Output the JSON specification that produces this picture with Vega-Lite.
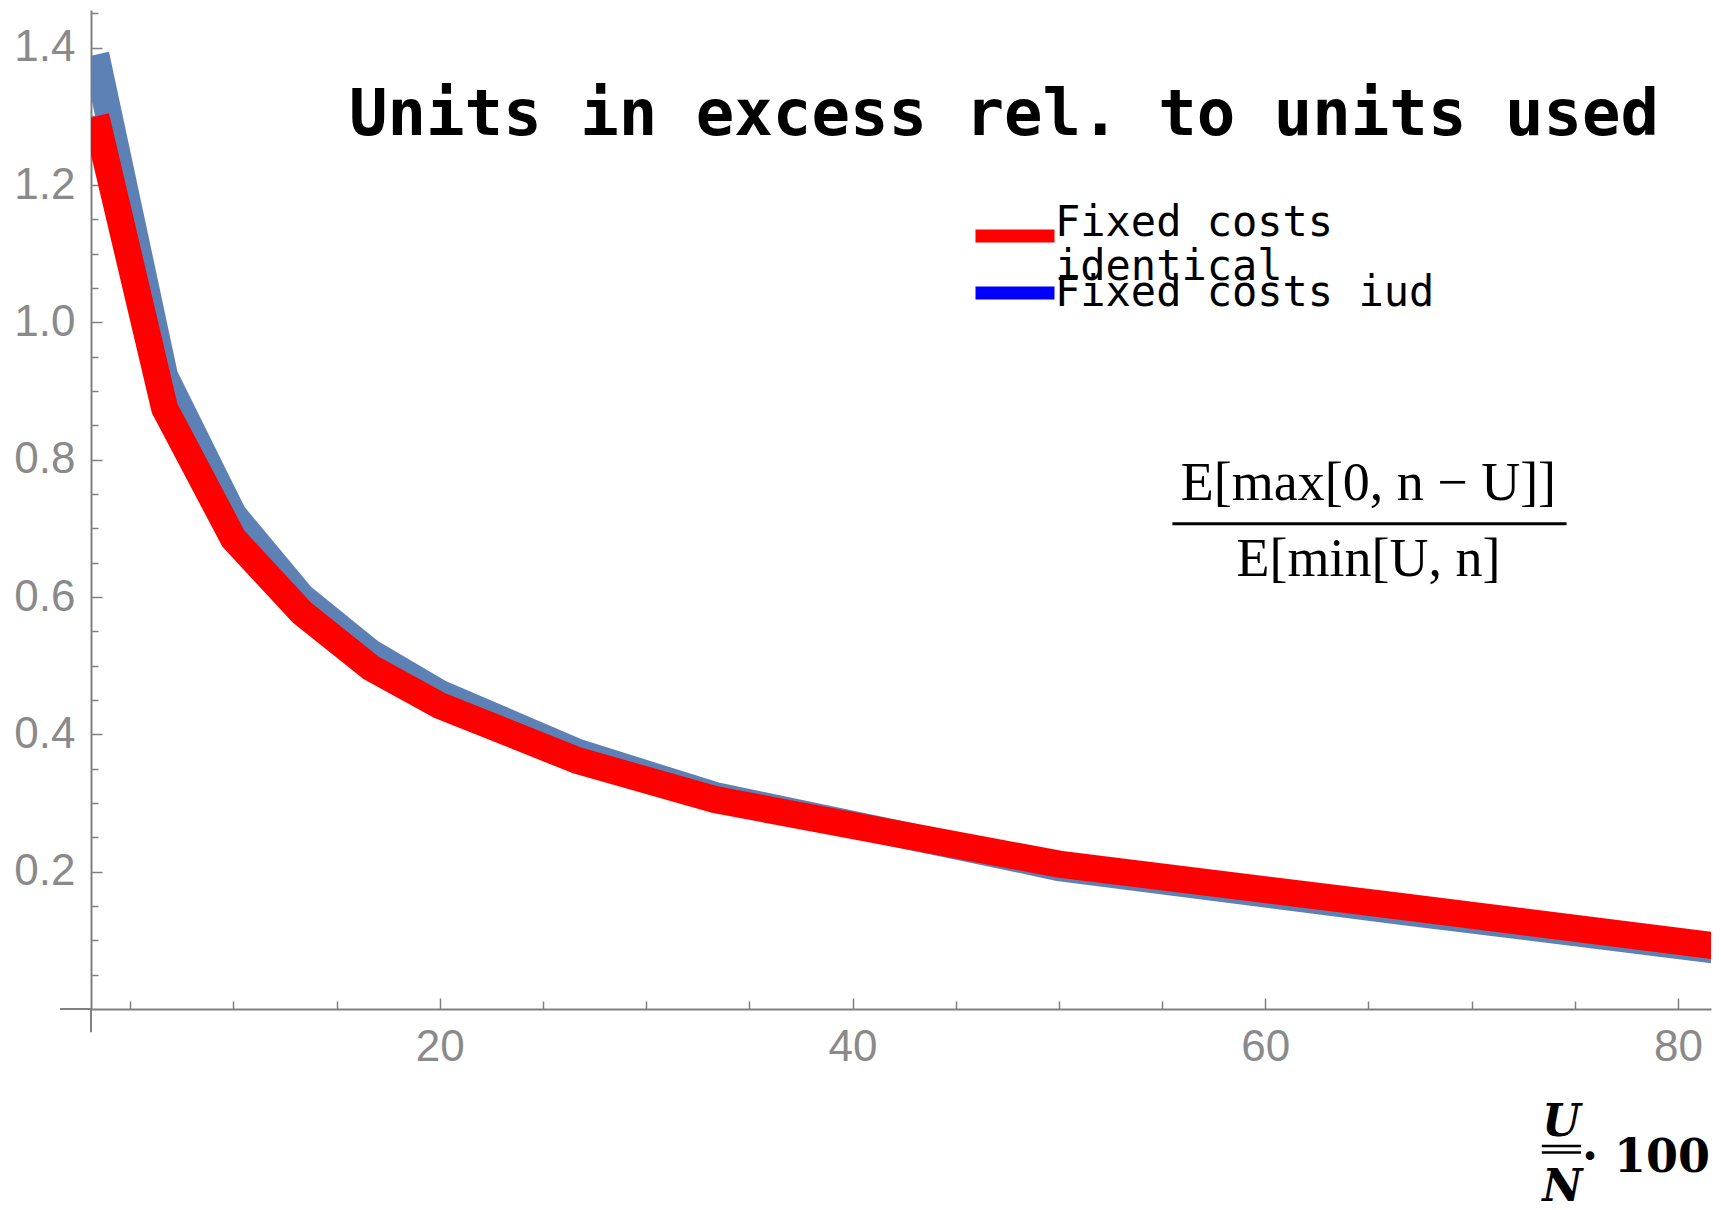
{
  "$schema": "https://vega.github.io/schema/vega-lite/v6.json",
  "width": 1620,
  "height": 999,
  "autosize": {"type": "none"},
  "padding": {"left": 91, "top": 10, "right": 10, "bottom": 201},
  "background": "white",
  "title": {"text": "Units in excess rel. to units used", "anchor": "start", "frame": "group", "orient": "top", "font": "DejaVu Sans Mono", "fontSize": 64, "fontWeight": "bold", "color": "black", "baseline": "alphabetic", "offset": 0, "dx": 258, "dy": 189},
  "config": {"view": {"stroke": null}, "axis": {"grid": false}},
  "datasets": {
    "curves": [
      {"x": 3.333, "y": 1.39, "series": "Fixed costs iud"},
      {"x": 6.667, "y": 0.922, "series": "Fixed costs iud"},
      {"x": 10, "y": 0.72, "series": "Fixed costs iud"},
      {"x": 13.333, "y": 0.6, "series": "Fixed costs iud"},
      {"x": 16.667, "y": 0.519, "series": "Fixed costs iud"},
      {"x": 20, "y": 0.46, "series": "Fixed costs iud"},
      {"x": 26.667, "y": 0.374, "series": "Fixed costs iud"},
      {"x": 33.333, "y": 0.311, "series": "Fixed costs iud"},
      {"x": 50, "y": 0.206, "series": "Fixed costs iud"},
      {"x": 66.667, "y": 0.142, "series": "Fixed costs iud"},
      {"x": 83.333, "y": 0.08, "series": "Fixed costs iud"},
      {"x": 3.333, "y": 1.3, "series": "Fixed costs identical"},
      {"x": 6.667, "y": 0.875, "series": "Fixed costs identical"},
      {"x": 10, "y": 0.685, "series": "Fixed costs identical"},
      {"x": 13.333, "y": 0.577, "series": "Fixed costs identical"},
      {"x": 16.667, "y": 0.497, "series": "Fixed costs identical"},
      {"x": 20, "y": 0.442, "series": "Fixed costs identical"},
      {"x": 26.667, "y": 0.362, "series": "Fixed costs identical"},
      {"x": 33.333, "y": 0.305, "series": "Fixed costs identical"},
      {"x": 50, "y": 0.211, "series": "Fixed costs identical"},
      {"x": 66.667, "y": 0.149, "series": "Fixed costs identical"},
      {"x": 83.333, "y": 0.086, "series": "Fixed costs identical"}
    ]
  },
  "resolve": {"axis": {"x": "independent", "y": "independent"}},
  "layer": [
    {
      "data": {"name": "curves"},
      "transform": [{"filter": "datum.series === 'Fixed costs iud'"}],
      "mark": {"type": "line", "stroke": "#5e81b5", "strokeWidth": 27, "clip": true},
      "encoding": {
        "x": {"field": "x", "type": "quantitative", "scale": {"domain": [3.1, 81.6], "nice": false, "zero": false},
          "axis": {"orient": "bottom", "values": [20, 40, 60, 80], "title": null, "tickSize": -11, "tickWidth": 1.5, "tickColor": "#808080", "domainColor": "#808080", "domainWidth": 2, "labelPadding": 27, "labelFont": "Liberation Sans", "labelFontSize": 44, "labelColor": "#8a8a8a", "labelFlush": false, "labelOverlap": false}},
        "y": {"field": "y", "type": "quantitative", "scale": {"domain": [0, 1.455], "nice": false, "zero": false},
          "axis": {"orient": "left", "values": [0.2, 0.4, 0.6, 0.8, 1.0, 1.2, 1.4], "format": ".1f", "title": null, "tickSize": -11, "tickWidth": 1.5, "tickColor": "#808080", "domainColor": "#808080", "domainWidth": 2, "labelPadding": 27, "labelFont": "Liberation Sans", "labelFontSize": 44, "labelColor": "#8a8a8a", "labelFlush": false, "labelOverlap": false}}
      }
    },
    {
      "data": {"name": "curves"},
      "transform": [{"filter": "datum.series === 'Fixed costs identical'"}],
      "mark": {"type": "line", "stroke": "#ff0000", "strokeWidth": 27, "clip": true},
      "encoding": {
        "x": {"field": "x", "type": "quantitative", "scale": {"domain": [3.1, 81.6], "nice": false, "zero": false}, "axis": null},
        "y": {"field": "y", "type": "quantitative", "scale": {"domain": [0, 1.455], "nice": false, "zero": false}, "axis": null}
      }
    },
    {
      "data": {"name": "curves"},
      "transform": [{"filter": "datum.series === 'Fixed costs identical'"}],
      "mark": {"type": "line", "opacity": 0, "strokeWidth": 1, "clip": true},
      "encoding": {
        "x": {"field": "x", "type": "quantitative", "scale": {"domain": [3.1, 81.6], "nice": false, "zero": false},
          "axis": {"orient": "bottom", "values": [5, 10, 15, 25, 30, 35, 45, 50, 55, 65, 70, 75], "title": null, "labels": false, "domain": false, "tickSize": -8, "tickWidth": 1.5, "tickColor": "#808080"}},
        "y": {"field": "y", "type": "quantitative", "scale": {"domain": [0, 1.455], "nice": false, "zero": false},
          "axis": {"orient": "left", "values": [0.05, 0.1, 0.15, 0.25, 0.3, 0.35, 0.45, 0.5, 0.55, 0.65, 0.7, 0.75, 0.85, 0.9, 0.95, 1.05, 1.1, 1.15, 1.25, 1.3, 1.35, 1.45], "title": null, "labels": false, "domain": false, "tickSize": -7, "tickWidth": 1.5, "tickColor": "#808080"}},
        "color": {"field": "series", "type": "nominal",
          "scale": {"domain": ["Fixed costs identical"], "range": ["#ff0000"]},
          "legend": {"orient": "none", "legendX": 878, "legendY": 180, "title": null, "padding": 0, "offset": 0,
            "symbolType": "stroke", "symbolSize": 6241, "symbolStrokeWidth": 13, "symbolOpacity": 1,
            "labelFont": "DejaVu Sans Mono", "labelFontSize": 42, "labelColor": "black", "labelLimit": 1000, "labelOffset": -6,
            "labelExpr": "datum.label === 'Fixed costs identical' ? ['Fixed costs', 'identical'] : datum.label",
            "labelBaseline": "alphabetic"}}
      }
    },
    {
      "data": {"name": "curves"},
      "transform": [{"filter": "datum.series === 'Fixed costs iud'"}],
      "mark": {"type": "line", "opacity": 0, "strokeWidth": 1, "clip": true},
      "encoding": {
        "x": {"field": "x", "type": "quantitative", "scale": {"domain": [3.1, 81.6], "nice": false, "zero": false}, "axis": null},
        "y": {"field": "y", "type": "quantitative", "scale": {"domain": [0, 1.455], "nice": false, "zero": false}, "axis": null},
        "stroke": {"field": "series", "type": "nominal",
          "scale": {"domain": ["Fixed costs iud"], "range": ["#0000ff"]},
          "legend": {"orient": "none", "legendX": 878, "legendY": 237, "title": null, "padding": 0, "offset": 0,
            "symbolType": "stroke", "symbolSize": 6241, "symbolStrokeWidth": 13, "symbolOpacity": 1,
            "labelFont": "DejaVu Sans Mono", "labelFontSize": 42, "labelColor": "black", "labelLimit": 1000, "labelOffset": -6,
            "labelBaseline": "middle"}}
      }
    },
    {
      "data": {"values": [{}]},
      "mark": {"type": "rule", "color": "black", "strokeWidth": 3},
      "encoding": {
        "x": {"datum": 55.5, "type": "quantitative", "scale": {"domain": [3.1, 81.6], "nice": false, "zero": false}, "axis": null},
        "x2": {"datum": 74.6},
        "y": {"datum": 0.7067, "type": "quantitative", "scale": {"domain": [0, 1.455], "nice": false, "zero": false}, "axis": null}
      }
    },
    {
      "data": {"values": [{}]},
      "mark": {"type": "text", "text": "E[max[0, n − U]]", "font": "Liberation Serif", "fontSize": 54, "align": "center", "baseline": "alphabetic", "color": "black"},
      "encoding": {
        "x": {"datum": 65.0, "type": "quantitative", "scale": {"domain": [3.1, 81.6], "nice": false, "zero": false}, "axis": null},
        "y": {"datum": 0.742, "type": "quantitative", "scale": {"domain": [0, 1.455], "nice": false, "zero": false}, "axis": null}
      }
    },
    {
      "data": {"values": [{}]},
      "mark": {"type": "text", "text": "E[min[U, n]", "font": "Liberation Serif", "fontSize": 54, "align": "center", "baseline": "alphabetic", "color": "black"},
      "encoding": {
        "x": {"datum": 65.0, "type": "quantitative", "scale": {"domain": [3.1, 81.6], "nice": false, "zero": false}, "axis": null},
        "y": {"datum": 0.63, "type": "quantitative", "scale": {"domain": [0, 1.455], "nice": false, "zero": false}, "axis": null}
      }
    },
    {
      "data": {"values": [{}]},
      "mark": {"type": "text", "text": "U", "font": "DejaVu Serif", "fontSize": 44, "fontWeight": "bold", "fontStyle": "italic", "align": "center", "baseline": "alphabetic", "color": "black"},
      "encoding": {
        "x": {"datum": 74.35, "type": "quantitative", "scale": {"domain": [3.1, 81.6], "nice": false, "zero": false}, "axis": null},
        "y": {"datum": -0.185, "type": "quantitative", "scale": {"domain": [0, 1.455], "nice": false, "zero": false}, "axis": null}
      }
    },
    {
      "data": {"values": [{}]},
      "mark": {"type": "text", "text": "N", "font": "DejaVu Serif", "fontSize": 44, "fontWeight": "bold", "fontStyle": "italic", "align": "center", "baseline": "alphabetic", "color": "black"},
      "encoding": {
        "x": {"datum": 74.4, "type": "quantitative", "scale": {"domain": [3.1, 81.6], "nice": false, "zero": false}, "axis": null},
        "y": {"datum": -0.28, "type": "quantitative", "scale": {"domain": [0, 1.455], "nice": false, "zero": false}, "axis": null}
      }
    },
    {
      "data": {"values": [{}]},
      "mark": {"type": "rule", "color": "black", "strokeWidth": 2.5},
      "encoding": {
        "x": {"datum": 73.4, "type": "quantitative", "scale": {"domain": [3.1, 81.6], "nice": false, "zero": false}, "axis": null},
        "x2": {"datum": 75.3},
        "y": {"datum": -0.1994, "type": "quantitative", "scale": {"domain": [0, 1.455], "nice": false, "zero": false}, "axis": null}
      }
    },
    {
      "data": {"values": [{}]},
      "mark": {"type": "rule", "color": "black", "strokeWidth": 2.5},
      "encoding": {
        "x": {"datum": 73.4, "type": "quantitative", "scale": {"domain": [3.1, 81.6], "nice": false, "zero": false}, "axis": null},
        "x2": {"datum": 75.3},
        "y": {"datum": -0.209, "type": "quantitative", "scale": {"domain": [0, 1.455], "nice": false, "zero": false}, "axis": null}
      }
    },
    {
      "data": {"values": [{}]},
      "mark": {"type": "text", "text": "· 100", "font": "DejaVu Serif", "fontSize": 46, "fontWeight": "bold", "align": "left", "baseline": "alphabetic", "color": "black"},
      "encoding": {
        "x": {"datum": 75.35, "type": "quantitative", "scale": {"domain": [3.1, 81.6], "nice": false, "zero": false}, "axis": null},
        "y": {"datum": -0.237, "type": "quantitative", "scale": {"domain": [0, 1.455], "nice": false, "zero": false}, "axis": null}
      }
    },
    {
      "data": {"values": [{}]},
      "mark": {"type": "rule", "color": "#808080", "strokeWidth": 2},
      "encoding": {
        "x": {"datum": 1.6, "type": "quantitative", "scale": {"domain": [3.1, 81.6], "nice": false, "zero": false}, "axis": null},
        "x2": {"datum": 3.1},
        "y": {"datum": 0, "type": "quantitative", "scale": {"domain": [0, 1.455], "nice": false, "zero": false}, "axis": null}
      }
    },
    {
      "data": {"values": [{}]},
      "mark": {"type": "rule", "color": "#808080", "strokeWidth": 2},
      "encoding": {
        "x": {"datum": 3.1, "type": "quantitative", "scale": {"domain": [3.1, 81.6], "nice": false, "zero": false}, "axis": null},
        "y": {"datum": -0.034, "type": "quantitative", "scale": {"domain": [0, 1.455], "nice": false, "zero": false}, "axis": null},
        "y2": {"datum": 0}
      }
    }
  ]
}
